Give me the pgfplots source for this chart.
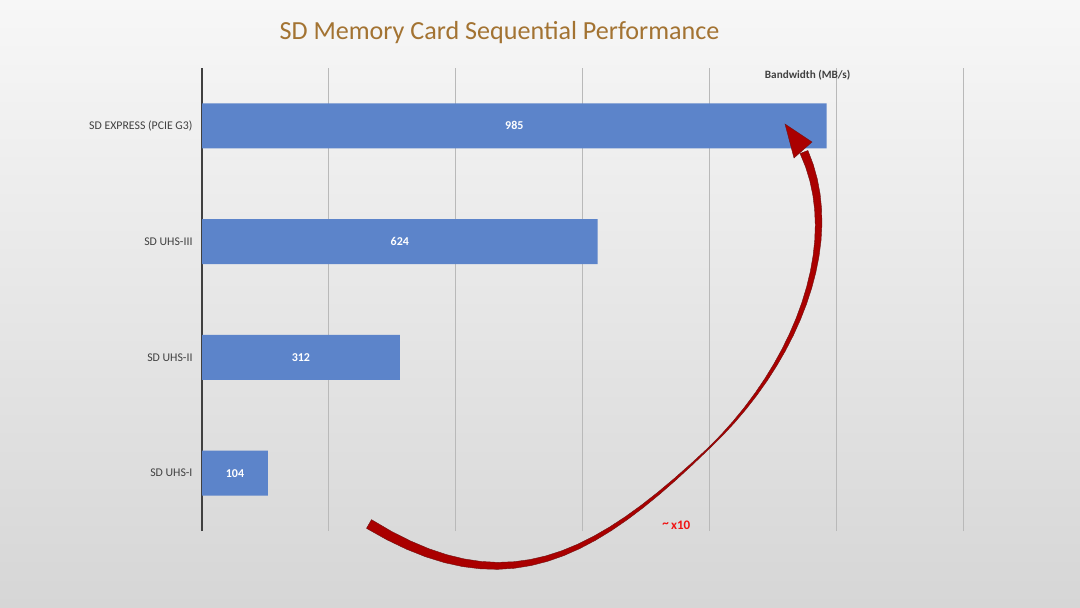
\documentclass[border=0pt]{standalone}
\usepackage{pgfplots}
\pgfplotsset{compat=1.18}
\usepackage{pgfplotstable}
\usepackage{fontspec}
\setmainfont{Carlito}
\usetikzlibrary{calc}
\definecolor{barblue}{RGB}{92,132,202}
\definecolor{titlegold}{RGB}{163,115,50}
\definecolor{txtgray}{RGB}{64,64,64}
\definecolor{gridgray}{RGB}{185,185,185}
\definecolor{arrowred}{RGB}{170,0,0}
\definecolor{arrowedge}{RGB}{110,20,20}
\definecolor{brightred}{RGB}{240,20,20}

\pgfplotstableread{
y v
0 104
1 312
2 624
3 985
}\speeddata

\begin{document}
\begin{tikzpicture}
% background
\shade[top color={rgb,255:red,247;green,247;blue,247}, bottom color={rgb,255:red,214;green,214;blue,214}]
  (0,0) rectangle (1080bp,-608bp);
% title
\node[text=titlegold, font=\fontsize{26.1bp}{30bp}\selectfont] at (499.5bp,-33bp) {SD Memory Card Sequential Performance};

\begin{axis}[
  at={(202bp,-531bp)}, anchor=south west,
  scale only axis, width=761bp, height=463bp,
  xmin=0, xmax=1200, ymin=-0.5, ymax=3.5,
  axis line style={draw=none},
  /pgf/number format/assume math mode=true,
  xtick={200,400,...,1200}, xticklabels={},
  extra x ticks={0}, extra x tick labels={},
  extra x tick style={grid style={draw=txtgray, line width=1.6bp}},
  xmajorgrids, grid style={draw=gridgray, line width=0.9bp},
  major tick length=0pt,
  ytick={0,1,2,3},
  yticklabels={SD UHS-I, SD UHS-II, SD UHS-III, SD EXPRESS (PCIE G3)},
  yticklabel style={text=txtgray, font=\fontsize{11.8bp}{13bp}\selectfont, xshift=-6bp},
  clip=false,
]
\addplot[xbar, bar width=45bp, fill=barblue, draw=none] table[x=v, y=y] {\speeddata};
\addplot[only marks, mark=none, point meta=explicit,
  nodes near coords={\pgfmathprintnumber[assume math mode=true]{\pgfplotspointmeta}},
  nodes near coords style={text=white, anchor=center, font=\bfseries\fontsize{12bp}{14bp}\selectfont}]
  table[x expr=\thisrow{v}/2, y=y, meta=v] {\speeddata};
\node[text=txtgray, font=\bfseries\fontsize{11.2bp}{13bp}\selectfont] at (axis cs:955,3.44) {Bandwidth (MB/s)};
\node[text=brightred, font=\bfseries\fontsize{13bp}{15bp}\selectfont] at (axis cs:748,-0.45) {\raisebox{0.15em}{\textasciitilde}\,x10};
\end{axis}

% curved arrow annotation
\begin{scope}[x=1bp, y=-1bp]
\foreach \i in {0,...,40} {
  \ifnum\i<21
    \pgfmathsetmacro{\t}{\i/20}
    \pgfmathsetmacro{\h}{5-4.3*\t}
    \path (369,524) .. controls (505,607.2) and (593.8,558.4) .. (709,448) coordinate[pos=\t] (Q\i);
  \else
    \pgfmathsetmacro{\t}{(\i-20)/20}
    \path (709,448) .. controls (795.4,365.2) and (845,243) .. (804,152) coordinate[pos=\t] (Q\i);
  \fi
}
\foreach \i in {0,...,40} {
  \pgfmathtruncatemacro{\ip}{max(\i-1,0)}
  \pgfmathtruncatemacro{\in}{min(\i+1,40)}
  \ifnum\i<21
    \pgfmathsetmacro{\h}{5-4.3*\i/20}
  \else
    \pgfmathsetmacro{\h}{0.7+3.5*(\i-20)/20}
  \fi
  \coordinate (D\i) at ($(Q\i)+(Q\in)-(Q\ip)$);
  \coordinate (O\i) at ($(Q\i)!\h bp!90:(D\i)$);
  \coordinate (I\i) at ($(Q\i)!\h bp!-90:(D\i)$);
}
\filldraw[fill=arrowred, draw=arrowedge, line width=0.4bp, line join=round]
  (O0) \foreach \i in {1,...,40} {-- (O\i)} \foreach \i in {40,39,...,0} {-- (I\i)} -- cycle;
\filldraw[fill=arrowred, draw=arrowedge, line width=0.4bp] (785,124) -- (794,158) -- (812,142) -- cycle;
\end{scope}
\end{tikzpicture}
\end{document}
